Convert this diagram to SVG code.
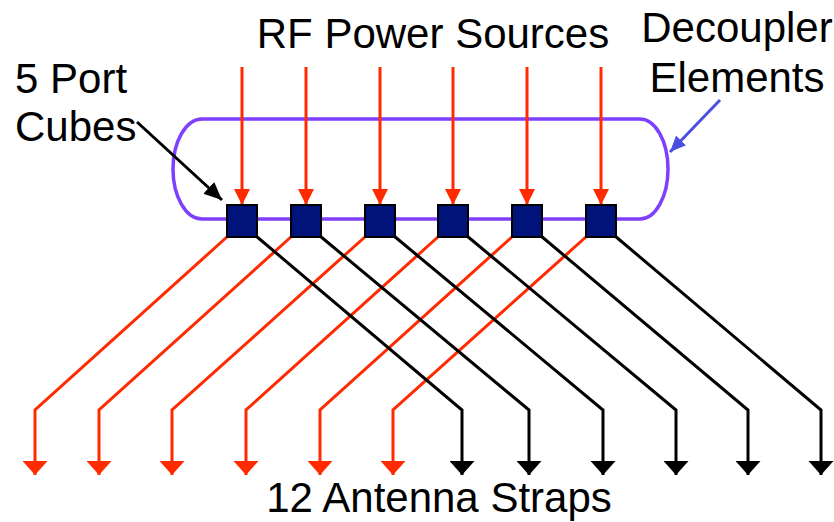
<svg xmlns="http://www.w3.org/2000/svg" width="834" height="522" viewBox="0 0 834 522">
<style>
text{font-family:"Liberation Sans",Arial,sans-serif;font-size:42px;fill:#000}
.red{stroke:#FF2A00;stroke-width:3;fill:none}
.blk{stroke:#000;stroke-width:3;fill:none}
.cube{fill:#00137A;stroke:#000;stroke-width:2}
</style>
<defs>
<marker id="hr" markerUnits="userSpaceOnUse" viewBox="0 0 16 16" refX="16" refY="8" markerWidth="16" markerHeight="16" orient="auto"><path d="M0,0L16,8L0,16Z" fill="#FF2A00"/></marker>
<marker id="hrb" markerUnits="userSpaceOnUse" viewBox="0 0 14 25" refX="14" refY="12.5" markerWidth="14" markerHeight="25" orient="auto"><path d="M0,0L14,12.5L0,25Z" fill="#FF2A00"/></marker>
<marker id="hkb" markerUnits="userSpaceOnUse" viewBox="0 0 14 25" refX="14" refY="12.5" markerWidth="14" markerHeight="25" orient="auto"><path d="M0,0L14,12.5L0,25Z" fill="#000"/></marker>
<marker id="hk" markerUnits="userSpaceOnUse" viewBox="0 0 18 16" refX="18" refY="8" markerWidth="18" markerHeight="16" orient="auto"><path d="M0,0L18,8L0,16Z" fill="#000"/></marker>
<marker id="hb" markerUnits="userSpaceOnUse" viewBox="0 0 16 14" refX="16" refY="7" markerWidth="16" markerHeight="14" orient="auto"><path d="M0,0L16,7L0,14Z" fill="#4A4FE0"/></marker>
</defs>
<g id="decoupler">
<path d="M202,119 L640,119 A28,50 0 0 1 640,219 L202,219 A29,50 0 0 1 202,119 Z" fill="none" stroke="#7F3FFF" stroke-width="3.5"/>
</g>
<g id="labels">
<text x="433" y="48" text-anchor="middle">RF Power Sources</text>
<text x="737" y="42" text-anchor="middle">Decoupler</text>
<text x="737" y="92" text-anchor="middle">Elements</text>
<text x="15" y="93">5 Port</text>
<text x="15" y="141">Cubes</text>
<text x="439" y="512" text-anchor="middle">12 Antenna Straps</text>
</g>
<g id="connectors">
<line x1="720" y1="100" x2="670" y2="152" stroke="#4A4FE0" stroke-width="3" marker-end="url(#hb)"/>
<line x1="137" y1="122" x2="222" y2="200" class="blk" marker-end="url(#hk)"/>
<g class="red">
<line x1="242" y1="67" x2="242" y2="205" marker-end="url(#hr)"/>
<line x1="306" y1="67" x2="306" y2="205" marker-end="url(#hr)"/>
<line x1="380" y1="67" x2="380" y2="205" marker-end="url(#hr)"/>
<line x1="453" y1="67" x2="453" y2="205" marker-end="url(#hr)"/>
<line x1="527" y1="67" x2="527" y2="205" marker-end="url(#hr)"/>
<line x1="601" y1="67" x2="601" y2="205" marker-end="url(#hr)"/>
<polyline points="228,236 35,410 35,475" marker-end="url(#hrb)"/>
<polyline points="292,236 99,410 99,475" marker-end="url(#hrb)"/>
<polyline points="366,236 172,410 172,475" marker-end="url(#hrb)"/>
<polyline points="439,236 246,410 246,475" marker-end="url(#hrb)"/>
<polyline points="513,236 320,410 320,475" marker-end="url(#hrb)"/>
<polyline points="587,236 393,410 393,475" marker-end="url(#hrb)"/>
</g>
<g class="blk">
<polyline points="256,236 462,410 462,475" marker-end="url(#hkb)"/>
<polyline points="320,236 529,410 529,475" marker-end="url(#hkb)"/>
<polyline points="394,236 603,410 603,475" marker-end="url(#hkb)"/>
<polyline points="467,236 676,410 676,475" marker-end="url(#hkb)"/>
<polyline points="541,236 748,410 748,475" marker-end="url(#hkb)"/>
<polyline points="615,236 821,410 821,475" marker-end="url(#hkb)"/>
</g>
</g>
<g id="cube1"><rect class="cube" x="227" y="205" width="30" height="32"/></g>
<g id="cube2"><rect class="cube" x="291" y="205" width="30" height="32"/></g>
<g id="cube3"><rect class="cube" x="365" y="205" width="30" height="32"/></g>
<g id="cube4"><rect class="cube" x="438" y="205" width="30" height="32"/></g>
<g id="cube5"><rect class="cube" x="512" y="205" width="30" height="32"/></g>
<g id="cube6"><rect class="cube" x="586" y="205" width="30" height="32"/></g>
</svg>
